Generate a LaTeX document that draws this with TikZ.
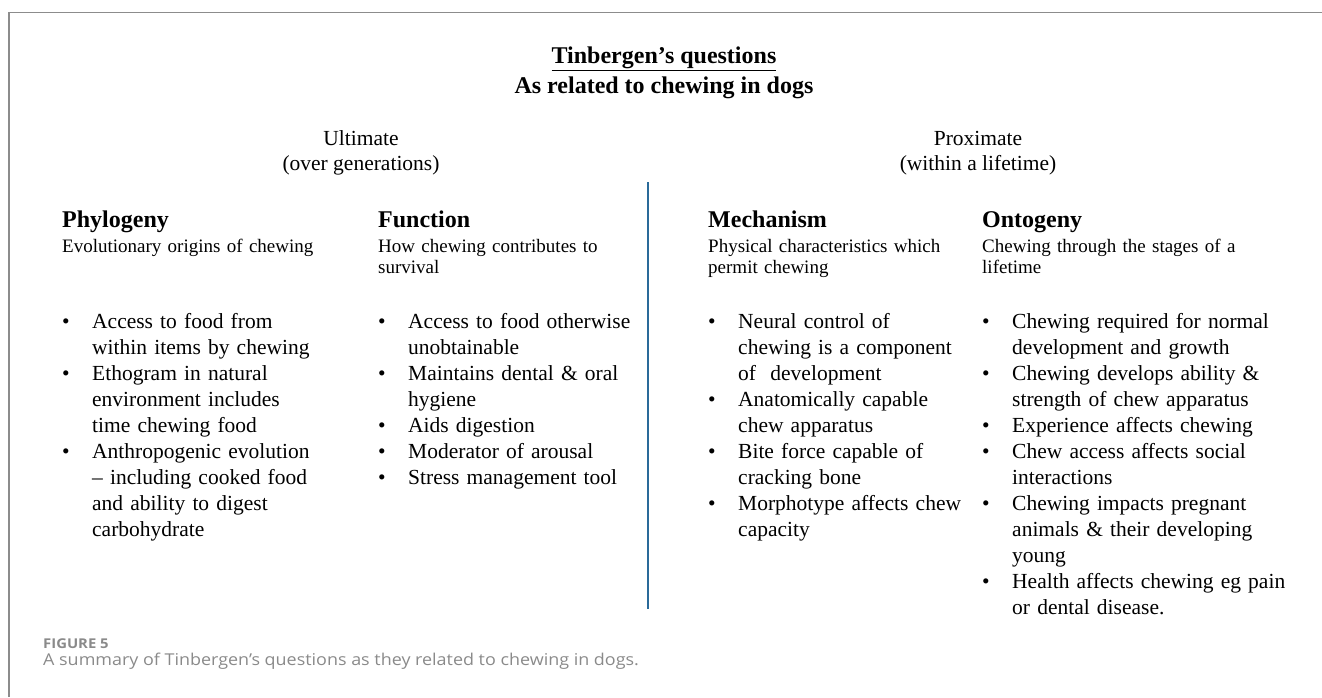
\documentclass[tikz,border=0pt]{standalone}
\usepackage{fontspec}
\setmainfont{Liberation Serif}
\newfontfamily\capfont[FakeStretch=1.1]{Open Sans}
\usepackage{xcolor}
\usepackage{tikz}
\usetikzlibrary{positioning}
\definecolor{framegrey}{HTML}{8C8C8C}
\definecolor{divblue}{HTML}{2A6A99}
\definecolor{capgrey}{HTML}{8A8A8A}
\newcommand{\bul}{\makebox[30pt][l]{\textbullet}}
\newcommand{\ind}{\hspace*{30pt}}

\begin{document}
\begin{tikzpicture}[x=1pt, y=-1pt]

                \useasboundingbox (0,0) rectangle (1322,697);

                % column lefts
                \def\ca{62}
                \def\cb{378}
                \def\cc{708}
                \def\cd{982}

                \tikzset{
                    title/.style={anchor=base, inner sep=0pt,
                        font=\fontsize{24}{28}\selectfont\bfseries},
                    span/.style={anchor=base, inner sep=0pt,
                        font=\fontsize{21.5}{25}\selectfont},
                    head/.style={anchor=base west, inner sep=0pt,
                        font=\fontsize{24}{28}\selectfont\bfseries},
                    sub/.style={anchor=base west, inner sep=0pt, text width=270pt,
                        align=left, font=\fontsize{19}{21.5}\selectfont},
                    list/.style={anchor=base west, inner sep=0pt, text width=335pt,
                        align=left, font=\fontsize{21.5}{26}\selectfont},
                    rule/.style={line width=1.5pt, framegrey}
                }

                % frame
                \coordinate (tl) at (9,12.5);
                \coordinate (tr) at (1322,12.5);
                \coordinate (bl) at (9,697);
                \draw[rule] (bl) -- (tl) -- (tr);

                \node[title] (t1) at (664,63) {\underline{Tinbergen’s questions}};
                \node[title] (t2) at (664,93) {As related to chewing in dogs};

                \node[span] (ult) at (361,145) {Ultimate};
                \node[span] (ultg) at (361,170) {(over generations)};
                \node[span] (prox) at (978,145) {Proximate};
                \node[span] (proxl) at (978,170) {(within a lifetime)};

                % divider
                \coordinate (dtop) at (648,182);
                \coordinate (dbot) at (648,609);
                \draw[line width=2pt, divblue] (dtop) -- (dbot);

                \begin{scope}
                    \node[head] (phy) at (\ca,227) {Phylogeny};
                    \node[sub] (physub) at (\ca,252)
                    {Evolutionary origins of chewing};
                    \node[list] (phylist) at (\ca,328)
                    {\bul Access to food from\\
                     \ind within items by chewing\\
                     \bul Ethogram in natural\\
                     \ind environment includes\\
                     \ind time chewing food\\
                     \bul Anthropogenic evolution\\
                     \ind – including cooked food\\
                     \ind and ability to digest\\
                     \ind carbohydrate};

                    \node[head] (fun) at (\cb,227) {Function};
                    \node[sub] (funsub) at (\cb,252)
                    {How chewing contributes to\\survival};
                    \node[list] (funlist) at (\cb,328)
                    {\bul Access to food otherwise\\
                     \ind unobtainable\\
                     \bul Maintains dental \& oral\\
                     \ind hygiene\\
                     \bul Aids digestion\\
                     \bul Moderator of arousal\\
                     \bul Stress management tool};

                    \node[head] (mec) at (\cc,227) {Mechanism};
                    \node[sub] (mecsub) at (\cc,252)
                    {Physical characteristics which\\permit chewing};
                    \node[list] (meclist) at (\cc,328)
                    {\bul Neural control of\\
                     \ind chewing is a component\\
                     \ind of\ \ development\\
                     \bul Anatomically capable\\
                     \ind chew apparatus\\
                     \bul Bite force capable of\\
                     \ind cracking bone\\
                     \bul Morphotype affects chew\\
                     \ind capacity};

                    \node[head] (ont) at (\cd,227) {Ontogeny};
                    \node[sub] (ontsub) at (\cd,252)
                    {Chewing through the stages of a\\lifetime};
                    \node[list] (ontlist) at (\cd,328)
                    {\bul Chewing required for normal\\
                     \ind development and growth\\
                     \bul Chewing develops ability \&\\
                     \ind strength of chew apparatus\\
                     \bul Experience affects chewing\\
                     \bul Chew access affects social\\
                     \ind interactions\\
                     \bul Chewing impacts pregnant\\
                     \ind animals \& their developing\\
                     \ind young\\
                     \bul Health affects chewing eg pain\\
                     \ind or dental disease.};
                \end{scope}

                % caption
                \node[anchor=base west, inner sep=0pt, capgrey,
                    font=\capfont\fontsize{13.5}{16}\selectfont\bfseries]
                    (fig) at (43,648) {FIGURE 5};
                \node[anchor=base west, inner sep=0pt, capgrey,
                    font=\capfont\fontsize{16.3}{19}\selectfont]
                    (cap) at (43,665)
                    {A summary of Tinbergen’s questions as they related to chewing in dogs.};

                \end{tikzpicture}
\end{document}
